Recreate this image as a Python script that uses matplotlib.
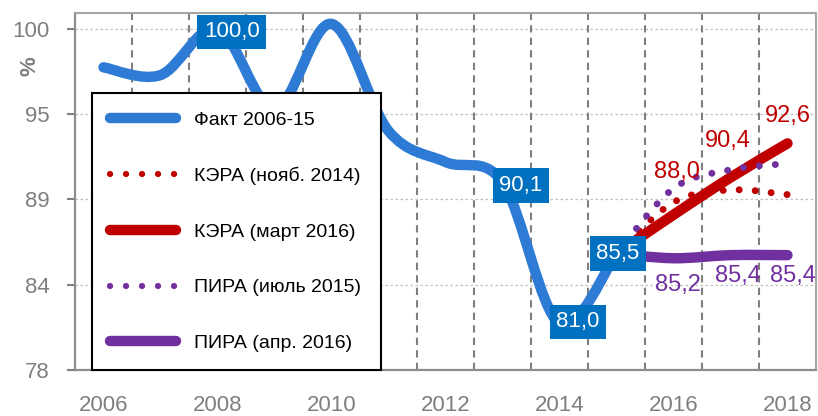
import matplotlib
matplotlib.use('Agg')
import matplotlib.pyplot as plt
from matplotlib.path import Path
from matplotlib.patches import PathPatch
from matplotlib.lines import Line2D
import numpy as np

plt.rcParams['font.family'] = ['Liberation Sans', 'DejaVu Sans']

# ---------------- data ----------------
fact_years = [2006, 2007, 2008, 2009, 2010, 2011, 2012, 2013, 2014, 2015]
fact_values = [97.5, 97.0, 100.0, 94.8, 100.3, 93.4, 91.4, 90.1, 81.0, 85.5]

fc_years = [2015, 2016, 2017, 2018]
kera_nov2014 = [85.5, 88.8, 89.6, 89.3]
kera_mar2016 = [85.5, 88.0, 90.4, 92.6]
pira_jul2015 = [85.5, 89.7, 90.9, 91.3]
pira_apr2016 = [85.5, 85.2, 85.4, 85.4]

series_labels = ['Факт 2006-15', 'КЭРА (нояб. 2014)', 'КЭРА (март 2016)',
                 'ПИРА (июль 2015)', 'ПИРА (апр. 2016)']

fact_label_years = [2008, 2013, 2014, 2015]
kera_label_years = [2016, 2017, 2018]
pira_label_years = [2016, 2017, 2018]

y_ticks = [78, 83.5, 89, 94.5, 100]
y_ticklabels = ['78', '84', '89', '95', '100']
x_ticks = [2006, 2008, 2010, 2012, 2014, 2016, 2018]
x_ticklabels = ['2006', '2008', '2010', '2012', '2014', '2016', '2018']

# ---------------- style ----------------
C_FACT = '#2E7BD6'
C_BOX = '#0070C0'
C_RED = '#C00000'
C_PURP = '#7030A0'
C_GRAY = '#7F7F7F'


def smooth_path(xs, ys):
    """Excel-like smoothed line as cubic Bezier path through the data points."""
    pts = np.column_stack([xs, ys]).astype(float)
    n = len(pts)
    verts = [pts[0]]
    codes = [Path.MOVETO]
    for i in range(n - 1):
        p0 = pts[i - 1] if i > 0 else pts[i]
        p1 = pts[i]
        p2 = pts[i + 1]
        p3 = pts[i + 2] if i + 2 < n else pts[i + 1]
        c1 = p1 + (p2 - p0) / 6.0
        c2 = p2 - (p3 - p1) / 6.0
        verts += [c1, c2, p2]
        codes += [Path.CURVE4] * 3
    return Path(verts, codes)


fig = plt.figure(figsize=(8.18, 4.16), dpi=100)
ax = fig.add_axes([75 / 818, 46 / 416, 741 / 818, 357 / 416])
ax.set_xlim(2005.5, 2018.5)
ax.set_ylim(78, 101)

# grid
for xb in np.arange(2006.5, 2018.0, 1.0):
    ax.axvline(xb, color=C_GRAY, lw=1.5, linestyle=(0, (3.5, 2.5)), zorder=0.5)
for yt in y_ticks[1:]:
    ax.axhline(yt, color='#BFBFBF', lw=0.9, linestyle=(0, (2, 2)), zorder=0.4)

SOLID_LW = 7.5
DOT_LW = 5.0
DOT_STYLE = (0, (0.01, 2.3))


def add_series(xs, ys, color, dotted, z):
    p = PathPatch(smooth_path(xs, ys), fill=False, edgecolor=color,
                  lw=DOT_LW if dotted else SOLID_LW,
                  linestyle=DOT_STYLE if dotted else '-', zorder=z)
    p.set_capstyle('round')
    p.set_joinstyle('round')
    ax.add_patch(p)


add_series(fact_years, fact_values, C_FACT, False, 2)
add_series(fc_years, kera_nov2014, C_RED, True, 2.1)
add_series(fc_years, kera_mar2016, C_RED, False, 2.2)
add_series(fc_years, pira_jul2015, C_PURP, True, 2.3)
add_series(fc_years, pira_apr2016, C_PURP, False, 2.4)

# data labels
fact_offsets = [(10.4, -2.5), (13.3, -2.5), (13.3, 1.1), (1.1, 0)]
for yr, off in zip(fact_label_years, fact_offsets):
    v = fact_values[fact_years.index(yr)]
    ax.annotate(f'{v:.1f}'.replace('.', ','), xy=(yr, v), xytext=off,
                textcoords='offset points', ha='center', va='center',
                color='white', fontsize=16, zorder=6,
                bbox=dict(boxstyle='square,pad=0.3', fc=C_BOX, ec='none'))

kera_offsets = [(2.2, 31.0), (-2.2, 26.0), (0, 20.0)]
for yr, off in zip(kera_label_years, kera_offsets):
    v = kera_mar2016[fc_years.index(yr)]
    ax.annotate(f'{v:.1f}'.replace('.', ','), xy=(yr, v), xytext=off,
                textcoords='offset points', ha='center', va='center',
                color=C_RED, fontsize=17, zorder=6)

pira_offsets = [(2.9, -19.5), (5.0, -15.2), (3.8, -15.2)]
for yr, off in zip(pira_label_years, pira_offsets):
    v = pira_apr2016[fc_years.index(yr)]
    ax.annotate(f'{v:.1f}'.replace('.', ','), xy=(yr, v), xytext=off,
                textcoords='offset points', ha='center', va='center',
                color=C_PURP, fontsize=17, zorder=6)

# axes styling
ax.set_yticks(y_ticks)
ax.set_yticklabels(y_ticklabels)
ax.set_xticks(x_ticks)
ax.set_xticklabels(x_ticklabels)
ax.tick_params(axis='y', colors=C_GRAY, labelsize=16, length=6, width=1.5, pad=12,
               direction='out')
ax.tick_params(axis='x', colors=C_GRAY, labelsize=16, length=0, pad=18)
for s in ['left', 'bottom']:
    ax.spines[s].set_color('#8C8C8C')
    ax.spines[s].set_linewidth(1.6)
for s in ['top', 'right']:
    ax.spines[s].set_color('#A6A6A6')
    ax.spines[s].set_linewidth(1.5)

fig.text(30 / 818, 1 - 66 / 416, '%', rotation=90, ha='center', va='center',
         color=C_GRAY, fontsize=16, fontweight='bold')

# legend
handles = [
    Line2D([], [], color=C_FACT, lw=SOLID_LW, solid_capstyle='round'),
    Line2D([], [], color=C_RED, lw=4.5, linestyle=(0, (0.01, 2.55)), dash_capstyle='round'),
    Line2D([], [], color=C_RED, lw=SOLID_LW, solid_capstyle='round'),
    Line2D([], [], color=C_PURP, lw=4.5, linestyle=(0, (0.01, 2.55)), dash_capstyle='round'),
    Line2D([], [], color=C_PURP, lw=SOLID_LW, solid_capstyle='round'),
]
leg = ax.legend(handles, series_labels, loc='lower left',
                bbox_to_anchor=(17 / 741, 0.0, 289 / 741, 277 / 357), mode='expand',
                borderaxespad=0, fontsize=14, handlelength=3.4, handletextpad=0.9,
                labelspacing=1.96, borderpad=0.92, fancybox=False, framealpha=1,
                edgecolor='black')
leg.get_frame().set_linewidth(1.5)
leg.set_zorder(5)

fig.savefig('out.png', dpi=100)
